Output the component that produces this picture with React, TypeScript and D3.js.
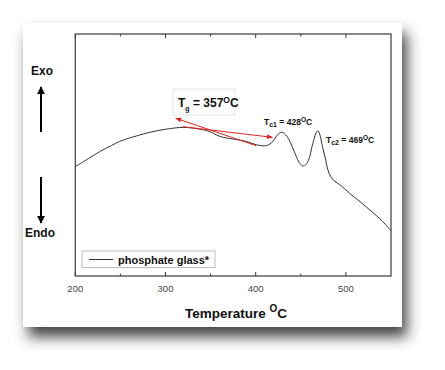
import React from 'react';
import * as d3 from 'd3';

// DSC trace (temperature in °C, heat flow in arbitrary units)
const temperature = [200, 215, 227, 240, 249, 260, 268, 283, 301, 320, 338, 348, 353, 360, 375, 390, 401, 412, 419, 423, 428, 432, 437, 441, 445, 448, 452, 456, 460, 462, 465, 467, 469, 471, 474, 477, 480, 483, 486, 495, 504, 513, 522, 530, 537, 544, 550];
const heatFlow = [0.452, 0.486, 0.514, 0.539, 0.556, 0.570, 0.579, 0.594, 0.607, 0.614, 0.607, 0.598, 0.590, 0.577, 0.566, 0.556, 0.542, 0.539, 0.556, 0.578, 0.594, 0.588, 0.563, 0.530, 0.494, 0.470, 0.455, 0.462, 0.494, 0.528, 0.570, 0.592, 0.600, 0.586, 0.535, 0.490, 0.439, 0.412, 0.397, 0.372, 0.342, 0.315, 0.287, 0.262, 0.239, 0.212, 0.186];

const xTicks = [200, 300, 400, 500];
const xMinorTicks = [250, 350, 450];

// Tg tangent construction: [x1, y1, x2, y2] in data units
const tangentLines = [
  [400.8, 0.538, 311.4, 0.652],
  [319.2, 0.617, 418.5, 0.573],
];

const seriesName = 'phosphate glass*';

export default function App() {
  const width = 445;
  const height = 370;
  const margin = { left: 75.3, right: 54, top: 34, bottom: 94 };

  const x = d3.scaleLinear().domain([200, 550]).range([margin.left, width - margin.right]);
  const y = d3.scaleLinear().domain([0, 1]).range([height - margin.bottom, margin.top]);

  const pts = temperature.map((t, i) => [t, heatFlow[i]] as [number, number]);
  const line = d3
    .line<[number, number]>()
    .x((d) => x(d[0]))
    .y((d) => y(d[1]))
    .curve(d3.curveCatmullRom.alpha(0.5));

  const x0 = x.range()[0];
  const x1 = x.range()[1];
  const yTop = y.range()[1];
  const yBot = y.range()[0];
  const font = '"Liberation Sans", Arial, sans-serif';

  return (
    <svg width={width} height={height} style={{ position: 'absolute', left: 0, top: 0 }} fontFamily={font}>
      <defs>
        <filter id="shadow" x="-20%" y="-20%" width="150%" height="150%">
          <feDropShadow dx="5" dy="10" stdDeviation="7" floodColor="#333" floodOpacity="0.9" />
        </filter>
        <marker id="redHead" viewBox="0 0 10 10" refX="9" refY="5" markerWidth="7" markerHeight="6" orient="auto">
          <path d="M0,1 L10,5 L0,9 Z" fill="#e8221f" />
        </marker>
        <marker id="blackHead" viewBox="0 0 10 10" refX="9" refY="5" markerWidth="4" markerHeight="4.5" orient="auto">
          <path d="M0,0 L10,5 L0,10 Z" fill="#000" />
        </marker>
      </defs>
      <rect width={width} height={height} fill="#fff" />
      {/* card */}
      <rect x={23} y={23} width={379} height={304} fill="#fff" filter="url(#shadow)" />

      {/* frame */}
      <rect x={x0} y={yTop} width={x1 - x0} height={yBot - yTop} fill="none" stroke="#3a3a3a" strokeWidth={1.2} />

      {/* ticks */}
      {xTicks.map((t) => (
        <g key={t}>
          <line x1={x(t)} x2={x(t)} y1={yBot} y2={yBot - 4} stroke="#3a3a3a" />
          <line x1={x(t)} x2={x(t)} y1={yTop} y2={yTop + 4} stroke="#3a3a3a" />
          <text x={x(t)} y={292} textAnchor="middle" fontSize={9.5} fill="#444">
            {t}
          </text>
        </g>
      ))}
      {xMinorTicks.map((t) => (
        <g key={t}>
          <line x1={x(t)} x2={x(t)} y1={yBot} y2={yBot - 2.5} stroke="#3a3a3a" />
          <line x1={x(t)} x2={x(t)} y1={yTop} y2={yTop + 2.5} stroke="#3a3a3a" />
        </g>
      ))}

      {/* axis title */}
      <text x={185} y={318} fontSize={13.5} fontWeight="bold" fill="#111">
        Temperature{' '}
        <tspan dy={-6} fontSize={10}>O</tspan>
        <tspan dy={6}>C</tspan>
      </text>

      {/* Exo / Endo */}
      <text x={42} y={75} textAnchor="middle" fontSize={12} fontWeight="bold" fill="#111">
        Exo
      </text>
      <line x1={41} x2={41} y1={132} y2={87} stroke="#000" strokeWidth={2} markerEnd="url(#blackHead)" />
      <line x1={41} x2={41} y1={177} y2={223} stroke="#000" strokeWidth={2} markerEnd="url(#blackHead)" />
      <text x={40} y={237} textAnchor="middle" fontSize={12} fontWeight="bold" fill="#111">
        Endo
      </text>

      {/* curve */}
      <path d={line(pts) ?? ''} fill="none" stroke="#333" strokeWidth={1} />

      {/* tangent arrows */}
      {tangentLines.map((l, i) => (
        <line
          key={i}
          x1={x(l[0])}
          y1={y(l[1])}
          x2={x(l[2])}
          y2={y(l[3])}
          stroke="#e8221f"
          strokeWidth={1}
          markerEnd="url(#redHead)"
        />
      ))}

      {/* Tg label */}
      <rect x={173} y={89} width={62} height={26} fill="#fff" fillOpacity={0.9} stroke="#dfe8df" strokeWidth={1} />
      <text x={178} y={106.5} fontSize={12} fontWeight="bold" fill="#111">
        T
        <tspan dy={4} fontSize={7}>g</tspan>
        <tspan dy={-4}> = 357</tspan>
        <tspan dy={-4} fontSize={8.5}>O</tspan>
        <tspan dy={4}>C</tspan>
      </text>

      {/* crystallisation peaks */}
      <text x={264} y={125} fontSize={8.5} fontWeight="bold" fill="#111">
        T
        <tspan dy={2} fontSize={7}>c1</tspan>
        <tspan dy={-2}> = 428</tspan>
        <tspan dy={-3} fontSize={6.5}>O</tspan>
        <tspan dy={3}>C</tspan>
      </text>
      <text x={326} y={142.5} fontSize={8.5} fontWeight="bold" fill="#111">
        T
        <tspan dy={2} fontSize={7}>c2</tspan>
        <tspan dy={-2}> = 469</tspan>
        <tspan dy={-3} fontSize={6.5}>O</tspan>
        <tspan dy={3}>C</tspan>
      </text>

      {/* legend */}
      <rect x={82} y={251} width={133} height={16.5} fill="#fff" stroke="#bdbdbd" strokeWidth={1} />
      <line x1={89} x2={113} y1={259.5} y2={259.5} stroke="#333" strokeWidth={1} />
      <text x={118} y={263.5} fontSize={11} fontWeight="bold" fill="#111">
        {seriesName}
      </text>
    </svg>
  );
}
